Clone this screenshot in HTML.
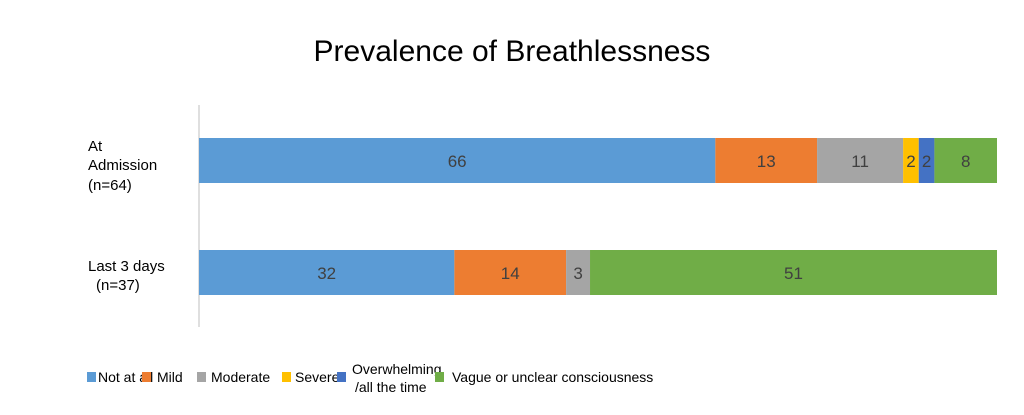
<!DOCTYPE html>
<html><head><meta charset="utf-8"><style>
body{margin:0;background:#fff;}
svg text{font-family:"Liberation Sans",Arial,sans-serif;}
</style></head><body>
<svg id="chart" width="1024" height="410" viewBox="0 0 1024 410">
<text x="512" y="61" text-anchor="middle" font-size="30" fill="#000">Prevalence of Breathlessness</text>
<line x1="199" y1="105" x2="199" y2="327" stroke="#bfbfbf" stroke-width="1"/>
<g id="bars"></g>
<g font-size="15" fill="#000">
<text x="88" y="151">At</text>
<text x="88" y="170">Admission</text>
<text x="88" y="190">(n=64)</text>
<text x="88" y="271">Last 3 days</text>
<text x="96" y="290">(n=37)</text>
</g>
<g id="legend" font-size="14" fill="#000"></g>
</svg>
<script>
const categories = ["At Admission","Last 3 days"];
const seriesNames = ["Not at all","Mild","Moderate","Severe","Overwhelming /all the time","Vague or unclear consciousness"];
const admission = [66,13,11,2,2,8];
const last3 = [32,14,3,0,0,51];
const colors = ["#5b9bd5","#ed7d31","#a5a5a5","#ffc000","#4472c4","#70ad47"];
const values = [admission,last3];
const NS="http://www.w3.org/2000/svg";
const x0=199,x1=997,rowY=[138,250],barH=45;
const bars=document.getElementById('bars');
values.forEach((row,ri)=>{
  const total=row.reduce((a,b)=>a+b,0);
  const xs=v=>x0+(x1-x0)*v/total;
  let cum=0;
  row.forEach((v,si)=>{
    if(v<=0)return;
    const xa=xs(cum),xb=xs(cum+v);cum+=v;
    const r=document.createElementNS(NS,'rect');
    r.setAttribute('x',xa);r.setAttribute('y',rowY[ri]);
    r.setAttribute('width',xb-xa);r.setAttribute('height',barH);
    r.setAttribute('fill',colors[si]);
    
    
    bars.appendChild(r);
    const t=document.createElementNS(NS,'text');
    t.setAttribute('x',(xa+xb)/2);t.setAttribute('y',rowY[ri]+29);
    t.setAttribute('text-anchor','middle');t.setAttribute('font-size','17');
    t.setAttribute('fill','#404040');
    t.textContent=v;
    
    
    bars.appendChild(t);
  });
});
const legendX=[87,142,197,282,337,435];
const lg=document.getElementById('legend');
seriesNames.forEach((n,i)=>{
  const g=document.createElementNS(NS,'g');
  
  
  const r=document.createElementNS(NS,'rect');
  r.setAttribute('x',legendX[i]);r.setAttribute('y',372);
  r.setAttribute('width',9);r.setAttribute('height',10);
  r.setAttribute('fill',colors[i]);
  g.appendChild(r);
  if(i===4){
    [["Overwhelming",352,374],["/all the time",355,392]].forEach(([s,x,y])=>{
      const t=document.createElementNS(NS,'text');
      t.setAttribute('x',x);t.setAttribute('y',y);t.textContent=s;g.appendChild(t);
    });
  } else {
    const t=document.createElementNS(NS,'text');
    t.setAttribute('x',legendX[i]+[11,15,14,13,0,17][i]);t.setAttribute('y',382);
    t.textContent=n;g.appendChild(t);
  }
  lg.appendChild(g);
});
</script>
</body></html>
